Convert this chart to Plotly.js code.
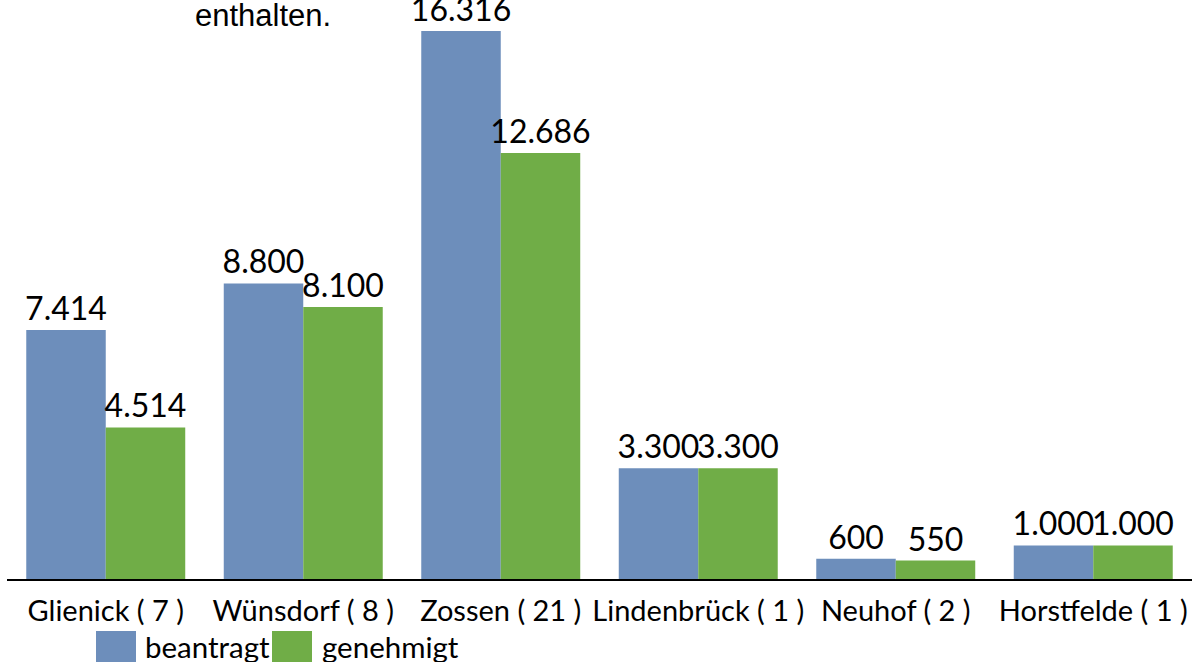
<!DOCTYPE html>
<html>
<head>
<meta charset="utf-8">
<script src="https://cdn.plot.ly/plotly-3.0.1.min.js"></script>
<style>
  html, body { margin: 0; padding: 0; background: #fff; }
  #chart { width: 1192px; height: 662px; }
</style>
</head>
<body>
<div id="chart"></div>
<script>
// Fördermittel je Ortsteil (Anzahl Anträge in Klammern)
const categories = ['Glienick ( 7 )', 'Wünsdorf ( 8 )', 'Zossen ( 21 )',
  'Lindenbrück ( 1 )', 'Neuhof ( 2 )', 'Horstfelde ( 1 )'];
const beantragt = [7414, 8800, 16316, 3300, 600, 1000];
const genehmigt = [4514, 8100, 12686, 3300, 550, 1000];
const seriesNames = ['beantragt', 'genehmigt'];
const seriesColors = ['#6D8EBB', '#70AD47'];
const yMax = 17238;

const W = 1192, H = 662;
const M = { l: 7, r: 0, t: 0, b: 83 };
const PW = W - M.l - M.r, PH = H - M.t - M.b;
// pixel -> paper helpers for the hand-drawn legend and the stray title text
const px = (x) => (x - M.l) / PW;
const py = (y) => (PH + M.t - y) / PH;

const labelFont = { family: 'Lato, sans-serif', size: 32, color: '#000' };

const traces = [beantragt, genehmigt].map((vals, i) => ({
  type: 'bar',
  x: categories,
  y: vals,
  name: seriesNames[i],
  marker: { color: seriesColors[i], line: { width: 0 } },
  texttemplate: '%{y:,}',
  textposition: 'outside',
  textfont: labelFont,
  constraintext: 'none',
  cliponaxis: false,
  showlegend: false,
  hoverinfo: 'skip',
}));

const legendBoxX = [96, 272];
const legendTextX = [143, 320];
const shapes = seriesNames.map((n, i) => ({
  type: 'rect', xref: 'paper', yref: 'paper',
  x0: px(legendBoxX[i]), x1: px(legendBoxX[i] + 40),
  y0: py(631), y1: py(664),
  fillcolor: seriesColors[i], line: { width: 0 },
}));
const annotations = seriesNames.map((n, i) => ({
  text: n, xref: 'paper', yref: 'paper', showarrow: false,
  x: px(legendTextX[i]), y: py(646), xanchor: 'left', yanchor: 'middle',
  font: { family: 'Lato, sans-serif', size: 29.5, color: '#000' },
}));
annotations.push({
  text: 'enthalten.', xref: 'paper', yref: 'paper', showarrow: false,
  x: px(263), y: py(-4), xanchor: 'center', yanchor: 'top',
  font: { family: 'Liberation Sans, Arial, sans-serif', size: 31, color: '#000' },
});

const layout = {
  width: W, height: H,
  margin: M,
  paper_bgcolor: '#fff',
  plot_bgcolor: '#fff',
  separators: ',.',
  barmode: 'group',
  bargap: 0.195,
  bargroupgap: 0,
  font: { family: 'Lato, sans-serif', size: 29, color: '#000' },
  xaxis: {
    showline: true, linecolor: '#000', linewidth: 1.5,
    ticks: '', ticklabelstandoff: 6,
    tickfont: { family: 'Lato, sans-serif', size: 29, color: '#000' },
    showgrid: false, zeroline: false, fixedrange: true,
  },
  yaxis: {
    range: [0, yMax], visible: false, showgrid: false, zeroline: false,
  },
  shapes: shapes,
  annotations: annotations,
};

Plotly.newPlot('chart', traces, layout, { displayModeBar: false, staticPlot: true });
</script>
</body>
</html>
